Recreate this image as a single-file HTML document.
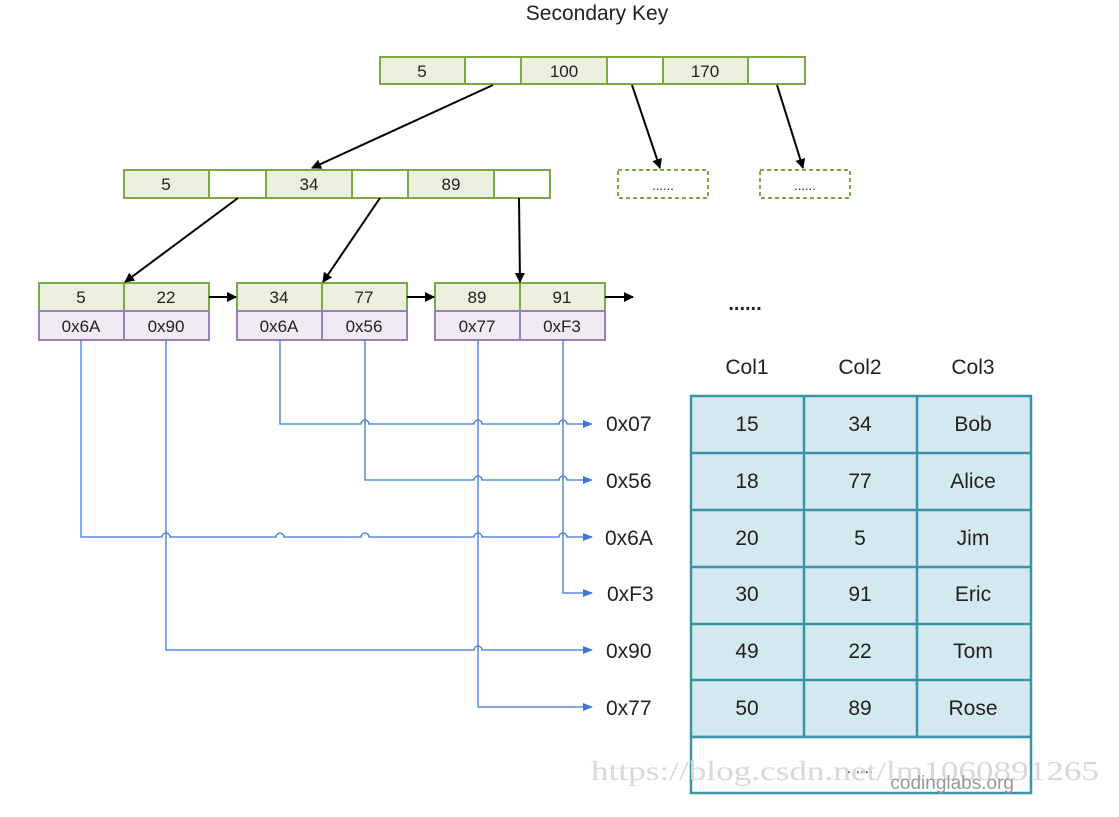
<!DOCTYPE html>
<html><head><meta charset="utf-8"><style>
body{margin:0;background:#fff;}
svg{display:block;font-family:"Liberation Sans",sans-serif;}
</style></head><body>
<svg width="1119" height="817" viewBox="0 0 1119 817">
<defs>
<marker id="ab" markerWidth="10" markerHeight="10" refX="9" refY="5" orient="auto" markerUnits="userSpaceOnUse"><path d="M0,0 L10,5 L0,10 z" fill="#000"/></marker>
<marker id="bb" markerWidth="10" markerHeight="8" refX="9" refY="4" orient="auto" markerUnits="userSpaceOnUse"><path d="M0,0 L10,4 L0,8 z" fill="#3a78d8"/></marker>
</defs>
<text x="597" y="20" font-size="21" text-anchor="middle" fill="#222">Secondary Key</text>
<g stroke="#7aaa45" stroke-width="2" font-size="17" text-anchor="middle">
<rect x="380" y="57" width="85" height="27" fill="#eaf0dd"/><rect x="465" y="57" width="56" height="27" fill="#fff"/>
<rect x="521" y="57" width="86" height="27" fill="#eaf0dd"/><rect x="607" y="57" width="56" height="27" fill="#fff"/>
<rect x="663" y="57" width="85" height="27" fill="#eaf0dd"/><rect x="748" y="57" width="57" height="27" fill="#fff"/>
<rect x="124" y="170" width="85" height="28" fill="#eaf0dd"/><rect x="209" y="170" width="57" height="28" fill="#fff"/>
<rect x="266" y="170" width="86" height="28" fill="#eaf0dd"/><rect x="352" y="170" width="56" height="28" fill="#fff"/>
<rect x="408" y="170" width="86" height="28" fill="#eaf0dd"/><rect x="494" y="170" width="56" height="28" fill="#fff"/>
<rect x="618" y="170" width="90" height="28" fill="#fff" stroke-dasharray="4,3"/>
<rect x="760" y="170" width="90" height="28" fill="#fff" stroke-dasharray="4,3"/>
<rect x="39" y="283" width="85" height="28" fill="#eaf0dd"/><rect x="124" y="283" width="85" height="28" fill="#eaf0dd"/>
<rect x="237" y="283" width="85" height="28" fill="#eaf0dd"/><rect x="322" y="283" width="85" height="28" fill="#eaf0dd"/>
<rect x="435" y="283" width="85" height="28" fill="#eaf0dd"/><rect x="520" y="283" width="85" height="28" fill="#eaf0dd"/>
</g>
<g stroke="#9a7fba" stroke-width="2">
<rect x="39" y="311" width="85" height="29" fill="#efeaf4"/><rect x="124" y="311" width="85" height="29" fill="#efeaf4"/>
<rect x="237" y="311" width="85" height="29" fill="#efeaf4"/><rect x="322" y="311" width="85" height="29" fill="#efeaf4"/>
<rect x="435" y="311" width="85" height="29" fill="#efeaf4"/><rect x="520" y="311" width="85" height="29" fill="#efeaf4"/>
</g>
<g font-size="17" text-anchor="middle" fill="#222">
<text x="422" y="77">5</text><text x="564" y="77">100</text><text x="705" y="77">170</text>
<text x="166" y="190">5</text><text x="309" y="190">34</text><text x="451" y="190">89</text>
<text x="663" y="190" font-size="13">......</text><text x="805" y="190" font-size="13">......</text>
<text x="81" y="303">5</text><text x="166" y="303">22</text><text x="279" y="303">34</text><text x="364" y="303">77</text><text x="477" y="303">89</text><text x="562" y="303">91</text>
<text x="81" y="332">0x6A</text><text x="166" y="332">0x90</text><text x="279" y="332">0x6A</text><text x="364" y="332">0x56</text><text x="477" y="332">0x77</text><text x="562" y="332">0xF3</text>
</g>
<g stroke="#000" stroke-width="2" marker-end="url(#ab)">
<line x1="493" y1="85" x2="312" y2="168"/><line x1="632" y1="85" x2="660" y2="168"/><line x1="777" y1="85" x2="803" y2="168"/>
<line x1="238" y1="198" x2="125" y2="282"/><line x1="380" y1="198" x2="323" y2="282"/><line x1="519" y1="198" x2="520" y2="282"/>
<line x1="209" y1="297" x2="236" y2="297"/><line x1="407" y1="297" x2="434" y2="297"/><line x1="605" y1="297" x2="633" y2="297"/>
</g>
<text x="745" y="310" font-size="20" text-anchor="middle" fill="#222" font-weight="bold">......</text>
<g fill="none" stroke="#3a78d8" stroke-width="1.3">
<path d="M280,340 V424 H361 a4,4 0 0 1 8,0 H474 a4,4 0 0 1 8,0 H559 a4,4 0 0 1 8,0 H592" marker-end="url(#bb)"/>
<path d="M365,340 V480 H474 a4,4 0 0 1 8,0 H559 a4,4 0 0 1 8,0 H592" marker-end="url(#bb)"/>
<path d="M81,340 V537 H162 a4,4 0 0 1 8,0 H276 a4,4 0 0 1 8,0 H361 a4,4 0 0 1 8,0 H474 a4,4 0 0 1 8,0 H559 a4,4 0 0 1 8,0 H592" marker-end="url(#bb)"/>
<path d="M563,340 V593 H592" marker-end="url(#bb)"/>
<path d="M166,340 V650 H474 a4,4 0 0 1 8,0 H592" marker-end="url(#bb)"/>
<path d="M478,340 V707 H592" marker-end="url(#bb)"/>
</g>
<g font-size="21" fill="#222">
<text x="606" y="431">0x07</text><text x="606" y="488">0x56</text><text x="605" y="545">0x6A</text>
<text x="607" y="601">0xF3</text><text x="606" y="658">0x90</text><text x="606" y="715">0x77</text>
</g>
<g font-size="21" fill="#222" text-anchor="middle">
<text x="747" y="374">Col1</text><text x="860" y="374">Col2</text><text x="973" y="374">Col3</text>
</g>
<rect x="691" y="396" width="340" height="341" fill="#d3e9ef" stroke="#3a93a6" stroke-width="2.5"/>
<rect x="691" y="737" width="340" height="56" fill="#fff" stroke="#3a93a6" stroke-width="2.5"/>
<g stroke="#3a93a6" stroke-width="2.5">
<line x1="804" y1="396" x2="804" y2="737"/><line x1="917" y1="396" x2="917" y2="737"/>
<line x1="691" y1="453" x2="1031" y2="453"/><line x1="691" y1="510" x2="1031" y2="510"/>
<line x1="691" y1="567" x2="1031" y2="567"/><line x1="691" y1="624" x2="1031" y2="624"/>
<line x1="691" y1="680" x2="1031" y2="680"/>
</g>
<g font-size="21" fill="#222" text-anchor="middle">
<text x="747" y="431">15</text><text x="860" y="431">34</text><text x="973" y="431">Bob</text>
<text x="747" y="488">18</text><text x="860" y="488">77</text><text x="973" y="488">Alice</text>
<text x="747" y="545">20</text><text x="860" y="545">5</text><text x="973" y="545">Jim</text>
<text x="747" y="601">30</text><text x="860" y="601">91</text><text x="973" y="601">Eric</text>
<text x="747" y="658">49</text><text x="860" y="658">22</text><text x="973" y="658">Tom</text>
<text x="747" y="715">50</text><text x="860" y="715">89</text><text x="973" y="715">Rose</text>
<text x="860" y="773" font-size="16">......</text>
</g>
<text x="591" y="780" font-size="27" fill="#d8d8d8" font-family="Liberation Serif,serif" textLength="508" lengthAdjust="spacingAndGlyphs">https://blog.csdn.net/lm1060891265</text>
<text x="1014" y="789" font-size="19" fill="#999" text-anchor="end">codinglabs.org</text>
</svg>
</body></html>
